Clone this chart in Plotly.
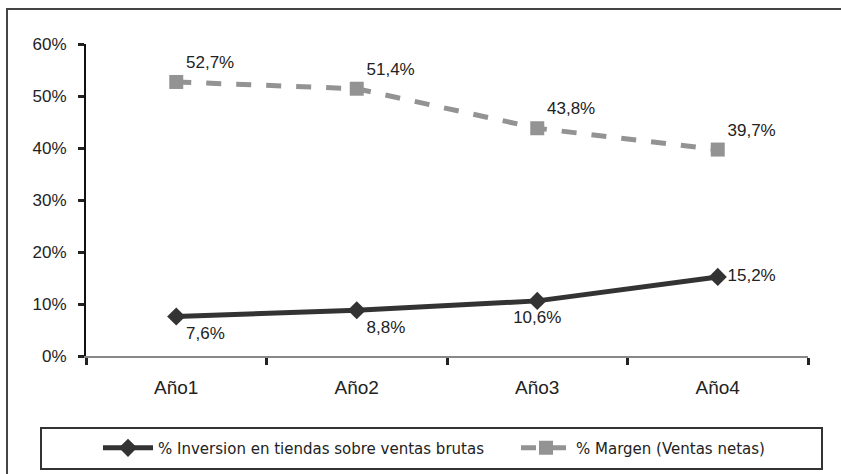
import plotly.graph_objects as go

categories = ["Año1", "Año2", "Año3", "Año4"]
inversion = [7.6, 8.8, 10.6, 15.2]
margen = [52.7, 51.4, 43.8, 39.7]
inversion_labels = ["7,6%", "8,8%", "10,6%", "15,2%"]
margen_labels = ["52,7%", "51,4%", "43,8%", "39,7%"]
y_ticks = [0, 10, 20, 30, 40, 50, 60]
y_tick_labels = ["0%", "10%", "20%", "30%", "40%", "50%", "60%"]
series_names = ["% Inversion en tiendas sobre ventas brutas", "% Margen (Ventas netas)"]

fig = go.Figure()
fig.add_trace(go.Scatter(
    x=categories, y=inversion, name=series_names[0],
    mode="lines+markers+text",
    line=dict(color="#333333", width=5),
    marker=dict(symbol="diamond", size=14, color="#333333"),
    text=inversion_labels,
    textposition=["bottom right", "bottom right", "bottom center", "middle right"],
    textfont=dict(family="Liberation Sans, Arial", size=17, color="#222222"),
    cliponaxis=False,
    legend="legend",
))
fig.add_trace(go.Scatter(
    x=categories, y=margen, name=series_names[1],
    mode="lines+markers+text",
    line=dict(color="#939393", width=5, dash="dash"),
    marker=dict(symbol="square", size=14, color="#939393"),
    text=margen_labels,
    textposition="top right",
    textfont=dict(family="Liberation Sans, Arial", size=17, color="#222222"),
    cliponaxis=False,
    legend="legend2",
))

legend_common = dict(
    orientation="h", y=-0.295, xanchor="left", yanchor="middle",
    font=dict(family="DejaVu Sans", size=15, color="#222222"),
    itemwidth=50, bgcolor="rgba(0,0,0,0)",
)

fig.update_layout(
    width=841, height=474,
    margin=dict(l=86, r=33, t=44, b=118, autoexpand=False),
    paper_bgcolor="white", plot_bgcolor="white",
    font=dict(family="Liberation Sans, Arial", color="#222222"),
    showlegend=True,
    legend=dict(x=(98 - 86) / 722, **legend_common),
    legend2=dict(x=(516 - 86) / 722, **legend_common),
    xaxis=dict(
        range=[-0.5, 3.5], showgrid=False, zeroline=False,
        showline=True, linecolor="#888888", linewidth=2,
        ticks="outside", tickson="boundaries", ticklen=7, tickwidth=3, tickcolor="#222222",
        tickfont=dict(size=19, color="#222222"),
        ticklabelstandoff=13, automargin=False,
    ),
    yaxis=dict(
        range=[0, 60], showgrid=False, zeroline=False,
        tickvals=y_ticks, ticktext=y_tick_labels,
        showline=True, linecolor="#111111", linewidth=2,
        ticks="outside", ticklen=6, tickwidth=3, tickcolor="#222222",
        tickfont=dict(size=17, color="#222222"),
        ticklabelstandoff=8, automargin=False,
    ),
    shapes=[
        dict(type="rect", xref="paper", yref="paper",
             x0=-0.1094, x1=1.2, y0=-0.5, y1=1.1122,
             line=dict(color="#444444", width=2), layer="below"),
        dict(type="rect", xref="paper", yref="paper",
             x0=(41 - 86) / 722, x1=(822 - 86) / 722,
             y0=(356 - 469) / 312, y1=(356 - 428) / 312,
             line=dict(color="#333333", width=2), layer="below"),
    ],
)

fig.write_html("out.html", config={"displayModeBar": False},
               post_script="document.body.style.margin='0px';")
